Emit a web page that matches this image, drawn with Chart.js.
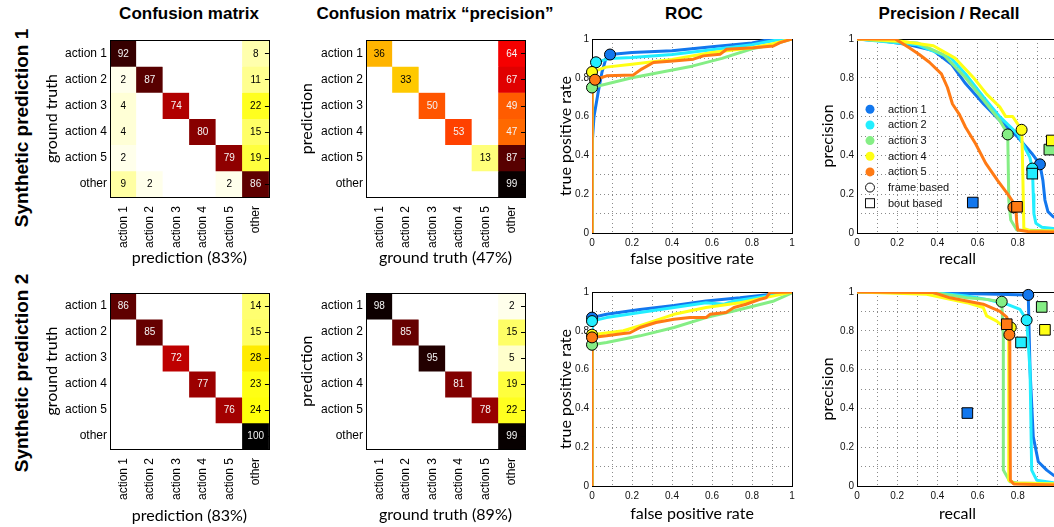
<!DOCTYPE html>
<html><head><meta charset="utf-8">
<script src="https://cdn.jsdelivr.net/npm/chart.js@4.4.1/dist/chart.umd.min.js"></script>
<style>
html,body{margin:0;padding:0;background:#fff;width:1054px;height:527px;overflow:hidden;position:relative}
canvas{position:absolute}
.t{position:absolute;transform:translate(-50%,-50%);font:bold 17px 'Liberation Sans',Arial,sans-serif;white-space:nowrap;color:#000}
.r{position:absolute;transform:translate(-50%,-50%) rotate(-90deg);font:bold 19px 'Liberation Sans',Arial,sans-serif;white-space:nowrap;color:#000}
</style></head><body>
<div class="t" style="left:189px;top:14px">Confusion matrix</div>
<div class="t" style="left:435px;top:14px">Confusion matrix “precision”</div>
<div class="t" style="left:684px;top:14px">ROC</div>
<div class="t" style="left:949px;top:14px">Precision / Recall</div>
<div class="r" style="left:22px;top:128px">Synthetic prediction 1</div>
<div class="r" style="left:22px;top:373px">Synthetic prediction 2</div>
<canvas id="cm1"></canvas><canvas id="cm2"></canvas><canvas id="roc1"></canvas><canvas id="pr1"></canvas>
<canvas id="cm3"></canvas><canvas id="cm4"></canvas><canvas id="roc2"></canvas><canvas id="pr2"></canvas>
<script>
// ---------- data ----------
const classLabels = ['action 1','action 2','action 3','action 4','action 5','other'];
const actionLabels = ['action 1','action 2','action 3','action 4','action 5'];
const actionColors = ['#1277ee','#22eeff','#85ee85','#ffff14','#ff7a14'];
const unitTickLabels = ['0','0.2','0.4','0.6','0.8','1'];

// confusion matrices (rows: ground truth / prediction)
const cmRecall1 = [[92,0,0,0,0,8],[2,87,0,0,0,11],[4,0,74,0,0,22],[4,0,0,80,0,15],[2,0,0,0,79,19],[9,2,0,0,2,86]];
const cmPrecision1 = [[36,0,0,0,0,64],[0,33,0,0,0,67],[0,0,50,0,0,49],[0,0,0,53,0,47],[0,0,0,0,13,87],[0,0,0,0,0,99]];
const cmRecall2 = [[86,0,0,0,0,14],[0,85,0,0,0,15],[0,0,72,0,0,28],[0,0,0,77,0,23],[0,0,0,0,76,24],[0,0,0,0,0,100]];
const cmPrecision2 = [[98,0,0,0,0,2],[0,85,0,0,0,15],[0,0,95,0,0,5],[0,0,0,81,0,19],[0,0,0,0,78,22],[0,0,0,0,0,99]];

// ROC curves, prediction 1  [fpr, tpr]
const roc1A1 = [[0,0],[0,0.45],[0.01,0.6],[0.03,0.72],[0.05,0.83],[0.07,0.9],[0.09,0.92],[0.2,0.93],[0.4,0.94],[0.6,0.96],[0.8,0.98],[0.9,1],[1,1]];
const roc1A2 = [[0,0],[0,0.75],[0.02,0.88],[0.09,0.9],[0.2,0.905],[0.4,0.92],[0.6,0.945],[0.8,0.97],[0.95,1],[1,1]];
const roc1A3 = [[0,0],[0,0.75],[0.2,0.8],[0.5,0.86],[0.65,0.9],[0.8,0.95],[0.9,0.97],[1,1]];
const roc1A4 = [[0,0],[0,0.83],[0.07,0.855],[0.2,0.87],[0.4,0.895],[0.6,0.93],[0.8,0.955],[0.9,0.975],[1,1]];
const roc1A5 = [[0,0],[0,0.79],[0.015,0.79],[0.073,0.81],[0.207,0.815],[0.248,0.845],[0.307,0.879],[0.407,0.887],[0.507,0.896],[0.557,0.913],[0.64,0.921],[0.673,0.947],[0.807,0.955],[0.907,0.964],[0.94,0.981],[1,1]];
const roc1Points = [[0.09,0.92],[0.02,0.88],[0,0.75],[0,0.83],[0.015,0.79]];

// ROC curves, prediction 2
const roc2A1 = [[0,0],[0,0.868],[0.073,0.885],[0.24,0.91],[0.41,0.93],[0.57,0.954],[0.74,0.97],[0.91,0.99],[1,1]];
const roc2A2 = [[0,0],[0,0.85],[0.073,0.868],[0.24,0.894],[0.41,0.92],[0.57,0.945],[0.66,0.937],[0.71,0.954],[0.82,0.97],[1,1]];
const roc2A3 = [[0,0],[0,0.728],[0.073,0.74],[0.24,0.774],[0.41,0.817],[0.57,0.868],[0.74,0.91],[0.91,0.954],[1,0.995]];
const roc2A4 = [[0,0],[0,0.78],[0.157,0.8],[0.24,0.826],[0.41,0.885],[0.57,0.92],[0.74,0.945],[0.91,0.98],[1,1]];
const roc2A5 = [[0,0],[0,0.766],[0.073,0.774],[0.157,0.786],[0.19,0.79],[0.24,0.817],[0.32,0.843],[0.41,0.86],[0.49,0.868],[0.57,0.868],[0.59,0.885],[0.67,0.894],[0.71,0.92],[0.77,0.937],[0.84,0.962],[0.87,0.97],[0.89,0.997],[1,1]];
const roc2Points = [[0,0.868],[0,0.85],[0,0.728],[0,0.78],[0,0.766]];

// precision / recall, prediction 1  [recall, precision]
const pr1A1 = [[0,1],[0.13,0.99],[0.26,0.97],[0.38,0.94],[0.47,0.87],[0.54,0.77],[0.63,0.665],[0.71,0.58],[0.8,0.494],[0.87,0.41],[0.91,0.354],[0.925,0.27],[0.935,0.17],[0.95,0.11],[0.975,0.085],[1,0.07]];
const pr1A2 = [[0,1],[0.3,0.97],[0.47,0.9],[0.54,0.82],[0.63,0.7],[0.71,0.6],[0.8,0.51],[0.86,0.39],[0.873,0.33],[0.877,0.2],[0.88,0.1],[0.89,0.05],[0.92,0.03],[1,0.02]];
const pr1A3 = [[0,1],[0.3,0.98],[0.43,0.92],[0.54,0.8],[0.645,0.665],[0.71,0.58],[0.75,0.51],[0.755,0.17],[0.765,0.067],[0.795,0.015],[1,0.01]];
const pr1A4 = [[0,1],[0.21,0.99],[0.38,0.965],[0.49,0.9],[0.58,0.8],[0.645,0.716],[0.71,0.65],[0.74,0.6],[0.775,0.6],[0.81,0.545],[0.82,0.53],[0.825,0.3],[0.83,0.024],[0.86,0.012],[1,0.01]];
const pr1A5 = [[0,1],[0.19,1],[0.26,0.955],[0.31,0.92],[0.36,0.88],[0.42,0.82],[0.45,0.75],[0.475,0.665],[0.51,0.61],[0.54,0.545],[0.59,0.46],[0.64,0.36],[0.7,0.27],[0.75,0.2],[0.77,0.17],[0.79,0.135],[0.795,0.05],[0.8,0.015],[0.85,0.008],[1,0.005]];
const pr1Frame = [[0.91,0.354],[0.872,0.332],[0.75,0.508],[0.819,0.532],[0.778,0.132]];
const pr1Bout = [[0.576,0.157],[0.872,0.306],[0.957,0.43],[0.969,0.477],[0.796,0.135]];

// precision / recall, prediction 2
const pr2A1 = [[0,1],[0.645,0.99],[0.852,0.985],[0.861,0.595],[0.877,0.253],[0.902,0.125],[0.944,0.082],[0.977,0.056],[1,0.045]];
const pr2A2 = [[0,1],[0.38,0.997],[0.546,0.98],[0.645,0.962],[0.745,0.937],[0.811,0.91],[0.844,0.855],[0.861,0.595],[0.869,0.082],[0.894,0.03],[0.977,0.017],[1,0.016]];
const pr2A3 = [[0,1],[0.38,0.997],[0.546,0.97],[0.645,0.962],[0.72,0.95],[0.728,0.766],[0.728,0.082],[0.761,0.022],[0.8,0.015],[1,0.012]];
const pr2A4 = [[0,1],[0.347,0.988],[0.463,0.962],[0.546,0.945],[0.628,0.92],[0.645,0.877],[0.695,0.85],[0.755,0.8],[0.755,0.03],[0.78,0.015],[1,0.01]];
const pr2A5 = [[0,1],[0.38,0.997],[0.463,0.97],[0.546,0.954],[0.628,0.937],[0.711,0.9],[0.745,0.87],[0.756,0.834],[0.76,0.78],[0.763,0.03],[0.78,0.01],[1,0.005]];
const pr2Frame = [[0.852,0.985],[0.844,0.855],[0.72,0.95],[0.765,0.817],[0.758,0.78]];
const pr2Bout = [[0.549,0.376],[0.816,0.74],[0.919,0.923],[0.935,0.805],[0.745,0.834]];

// ---------- helpers ----------
Chart.defaults.font.family = "'Liberation Sans', Arial, sans-serif";
Chart.defaults.color = '#111';
const TITLE_FONT = {family: "Lato, 'Open Sans', sans-serif", size: 16};

function hot(v){
  const t = 1 - v/100;
  const c = x => Math.round(255*Math.max(0, Math.min(1, x)));
  return 'rgb(' + c(t/0.375) + ',' + c((t-0.375)/0.375) + ',' + c((t-0.75)/0.25) + ')';
}
function place(id, rect){
  const cv = document.getElementById(id);
  cv.width = rect.w; cv.height = rect.h;
  cv.style.left = rect.x + 'px'; cv.style.top = rect.y + 'px';
  cv.style.width = rect.w + 'px'; cv.style.height = rect.h + 'px';
  return cv;
}
function layoutFor(rect, area){
  return {padding: {left: 0, top: area.t - rect.y, right: rect.x + rect.w - area.r, bottom: 0}};
}
const toXY = arr => arr.map(p => ({x: p[0], y: p[1]}));

function boxPlugin(onTop, innerTicks){
  return {
    id: 'box',
    [onTop ? 'afterDatasetsDraw' : 'beforeDatasetsDraw'](chart){
      const {ctx, chartArea: a} = chart;
      ctx.save();
      ctx.strokeStyle = '#000'; ctx.lineWidth = 1;
      ctx.strokeRect(Math.round(a.left)+0.5, Math.round(a.top)+0.5, Math.round(a.right-a.left), Math.round(a.bottom-a.top));
      if (innerTicks){
        chart.scales.y.ticks.forEach(tk => {
          const y = Math.round(chart.scales.y.getPixelForValue(tk.value)) + 0.5;
          ctx.beginPath(); ctx.moveTo(a.right - 4, y); ctx.lineTo(a.right, y); ctx.stroke();
        });
      }
      ctx.restore();
    }
  };
}
const cellTextPlugin = {
  id: 'cellText',
  afterDatasetsDraw(chart){
    const ctx = chart.ctx;
    ctx.save();
    ctx.font = "10px 'Liberation Sans', Arial, sans-serif";
    ctx.textAlign = 'center'; ctx.textBaseline = 'middle';
    chart.data.datasets.forEach((ds, di) => {
      chart.getDatasetMeta(di).data.forEach((el, i) => {
        const v = ds.cellValues[i];
        if (v > 0){
          ctx.fillStyle = v >= 45 ? '#f4f4f4' : '#000';
          ctx.fillText(String(v), el.x, (el.y + el.base)/2 + 0.5);
        }
      });
    });
    ctx.restore();
  }
};

function cmChart(id, rect, area, matrix, xTitle, yTitle){
  const cv = place(id, rect);
  const datasets = matrix.map((row, r) => ({
    label: classLabels[r],
    data: row.map(() => 1),
    cellValues: row,
    backgroundColor: row.map(hot),
    borderWidth: 0,
    barPercentage: 1, categoryPercentage: 1,
    stack: 'cells'
  }));
  new Chart(cv, {
    type: 'bar',
    data: {labels: classLabels, datasets},
    options: {
      responsive: false, animation: false, devicePixelRatio: 1,
      layout: layoutFor(rect, area),
      plugins: {legend: {display: false}, tooltip: {enabled: false}},
      scales: {
        x: {
          stacked: true,
          grid: {display: false, drawTicks: false}, border: {display: false},
          ticks: {minRotation: 90, maxRotation: 90, padding: 9, autoSkip: false, color: '#000', font: {size: 12}},
          title: {display: true, text: xTitle, font: TITLE_FONT, color: '#000', padding: 0},
          afterFit: s => { s.height = rect.y + rect.h - area.b; }
        },
        y: {
          stacked: true, min: 0, max: 6, reverse: true,
          grid: {display: false, drawTicks: false}, border: {display: false},
          afterBuildTicks: s => { s.ticks = classLabels.map((_, i) => ({value: i + 0.5})); },
          ticks: {autoSkip: false, padding: 3, color: '#000', font: {size: 12},
                  callback: v => classLabels[Math.floor(v)]},
          title: {display: true, text: yTitle, font: TITLE_FONT, color: '#000', padding: 0},
          afterFit: s => { s.width = area.l - rect.x; }
        }
      }
    },
    plugins: [cellTextPlugin, boxPlugin(true, true)]
  });
}

const legendPlugin = {
  id: 'prLegend',
  afterDatasetsDraw(chart){
    if (!chart.options.plugins.prLegend || !chart.options.plugins.prLegend.show) return;
    const {ctx, chartArea: a} = chart;
    const x0 = a.left + 13, tx = a.left + 31;
    let y = a.top + 70.3;
    const step = 15.65;
    ctx.save();
    ctx.font = "11px 'Liberation Sans', Arial, sans-serif";
    ctx.textBaseline = 'middle'; ctx.textAlign = 'left';
    actionLabels.forEach((lab, i) => {
      ctx.beginPath(); ctx.arc(x0, y, 4.5, 0, Math.PI*2);
      ctx.fillStyle = actionColors[i]; ctx.fill();
      ctx.fillStyle = '#111'; ctx.fillText(lab, tx, y + 0.5);
      y += step;
    });
    ctx.strokeStyle = '#111'; ctx.lineWidth = 1;
    ctx.beginPath(); ctx.arc(x0, y, 4.5, 0, Math.PI*2); ctx.stroke();
    ctx.fillText('frame based', tx, y + 0.5);
    y += step;
    ctx.strokeRect(x0 - 4.5, y - 4.5, 9, 9);
    ctx.fillText('bout based', tx, y + 0.5);
    ctx.restore();
  }
};

function unitAxis(title, isX, rect, area){
  return {
    type: 'linear', min: 0, max: 1,
    grid: {color: '#8a8a8a', lineWidth: 1, drawTicks: false},
    border: {display: false, dash: [1, 3]},
    ticks: {stepSize: 0.1, autoSkip: false, maxRotation: 0, padding: isX ? 4 : 3, color: '#111', font: {size: 10},
            callback: v => { const k = Math.round(v*10); return k % 2 === 0 ? unitTickLabels[k/2] : ''; }},
    title: {display: true, text: title, font: TITLE_FONT, color: '#000', padding: 0},
    afterFit: isX ? (s => { s.height = rect.y + rect.h - area.b; }) : (s => { s.width = area.l - rect.x; })
  };
}

function curveChart(id, rect, area, curves, frameMarks, boutMarks, xTitle, yTitle, showLegend){
  const cv = place(id, rect);
  const datasets = [];
  curves.forEach((c, i) => datasets.push({
    type: 'scatter', label: actionLabels[i], data: toXY(c), showLine: true,
    borderColor: actionColors[i], backgroundColor: actionColors[i], borderWidth: 3,
    pointRadius: 0, tension: 0, order: 5 - i, borderJoinStyle: 'round', borderCapStyle: 'round'
  }));
  if (boutMarks) datasets.push({
    type: 'scatter', label: 'bout based', data: toXY(boutMarks), pointStyle: 'rect', pointRadius: 7.5,
    backgroundColor: actionColors, borderColor: '#000', borderWidth: 1, order: 0, clip: false
  });
  datasets.push({
    type: 'scatter', label: 'frame based', data: toXY(frameMarks), pointStyle: 'circle', pointRadius: 5.5,
    backgroundColor: actionColors, borderColor: '#000', borderWidth: 1, order: 0, clip: false
  });
  new Chart(cv, {
    type: 'scatter',
    data: {datasets},
    options: {
      responsive: false, animation: false, devicePixelRatio: 1,
      layout: layoutFor(rect, area),
      plugins: {legend: {display: false}, tooltip: {enabled: false}, prLegend: {show: showLegend}},
      scales: {x: unitAxis(xTitle, true, rect, area), y: unitAxis(yTitle, false, rect, area)}
    },
    plugins: [boxPlugin(false, false), legendPlugin]
  });
}

// ---------- charts ----------
cmChart('cm1', {x:42,y:30,w:238,h:237}, {l:110,t:38,r:269,b:197}, cmRecall1, 'prediction (83%)', 'ground truth');
cmChart('cm2', {x:297,y:30,w:239,h:237}, {l:366,t:38,r:526,b:197}, cmPrecision1, 'ground truth (47%)', 'prediction');
cmChart('cm3', {x:42,y:283,w:238,h:242}, {l:110,t:291,r:269,b:449}, cmRecall2, 'prediction (83%)', 'ground truth');
cmChart('cm4', {x:297,y:283,w:239,h:241}, {l:366,t:291,r:526,b:449}, cmPrecision2, 'ground truth (89%)', 'prediction');

curveChart('roc1', {x:556,y:30,w:252,h:238}, {l:592,t:38,r:792,b:233}, [roc1A1,roc1A2,roc1A3,roc1A4,roc1A5], roc1Points, null, 'false positive rate', 'true positive rate', false);
curveChart('roc2', {x:556,y:283,w:252,h:240}, {l:592,t:291,r:792,b:486}, [roc2A1,roc2A2,roc2A3,roc2A4,roc2A5], roc2Points, null, 'false positive rate', 'true positive rate', false);
curveChart('pr1', {x:818,y:30,w:262,h:238}, {l:857,t:38,r:1058,b:233}, [pr1A1,pr1A2,pr1A3,pr1A4,pr1A5], pr1Frame, pr1Bout, 'recall', 'precision', true);
curveChart('pr2', {x:818,y:283,w:262,h:240}, {l:857,t:291,r:1058,b:486}, [pr2A1,pr2A2,pr2A3,pr2A4,pr2A5], pr2Frame, pr2Bout, 'recall', 'precision', false);
</script>
</body></html>
